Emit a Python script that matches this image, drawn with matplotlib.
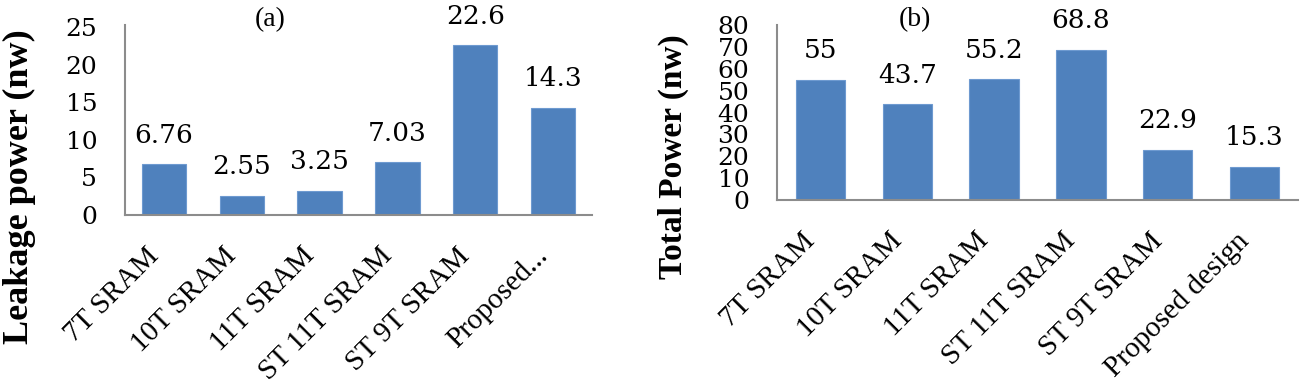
import matplotlib
matplotlib.use("Agg")
import matplotlib.pyplot as plt
import matplotlib.transforms as mtransforms

# data
labels_a = ["7T SRAM", "10T SRAM", "11T SRAM", "ST 11T SRAM", "ST 9T SRAM", "Proposed..."]
leakage = [6.76, 2.55, 3.25, 7.03, 22.6, 14.3]
leakage_txt = ["6.76", "2.55", "3.25", "7.03", "22.6", "14.3"]

labels_b = ["7T SRAM", "10T SRAM", "11T SRAM", "ST 11T SRAM", "ST 9T SRAM", "Proposed design"]
total = [55, 43.7, 55.2, 68.8, 22.9, 15.3]
total_txt = ["55", "43.7", "55.2", "68.8", "22.9", "15.3"]

ticks_a = [0, 5, 10, 15, 20, 25]
ticks_b = [0, 10, 20, 30, 40, 50, 60, 70, 80]

plt.rcParams['font.family'] = ['Liberation Serif', 'DejaVu Serif']
num_font = ['DejaVu Serif']

bar_col = "#4F81BD"
spine_col = "#8C8C8C"

fig = plt.figure(figsize=(13, 3.84), dpi=100)
ax_a = fig.add_axes([125 / 1300, 1 - 215 / 384, 467 / 1300, 190 / 384])
ax_b = fig.add_axes([777 / 1300, 1 - 200 / 384, 521 / 1300, 175 / 384])


def draw(ax, labels, vals, txt, ticks, ymax):
    x = list(range(len(vals)))
    ax.bar(x, vals, width=0.57, color=bar_col, edgecolor="#6E9AD0", linewidth=0.8)
    for xi, v, t in zip(x, vals, txt):
        ax.annotate(t, (xi, v), xytext=(0, 12), textcoords="offset points",
                    ha="center", va="bottom", fontsize=19, family=num_font)
    ax.set_xlim(-0.5, len(vals) - 0.5)
    ax.set_ylim(0, ymax)
    ax.set_yticks(ticks)
    ax.set_yticklabels([str(t) for t in ticks], family=num_font, fontsize=18)
    ax.set_xticks(x)
    ax.set_xticklabels(labels, rotation=45, ha="right", fontsize=21)
    off = mtransforms.ScaledTranslation(7 / 100, 0, fig.dpi_scale_trans)
    for lab in ax.get_xticklabels():
        lab.set_transform(lab.get_transform() + off)
    ax.tick_params(axis="y", length=0, pad=20)
    ax.tick_params(axis="x", length=0, pad=20)
    for s in ["top", "right"]:
        ax.spines[s].set_visible(False)
    for s in ["left", "bottom"]:
        ax.spines[s].set_color(spine_col)
        ax.spines[s].set_linewidth(1.5)


draw(ax_a, labels_a, leakage, leakage_txt, ticks_a, 25.3)
draw(ax_b, labels_b, total, total_txt, ticks_b, 80)

fig.text(19 / 1300, 1 - 187 / 384, "Leakage power (nw)", rotation=90,
         ha="center", va="center", fontsize=26, fontweight="bold")
fig.text(673 / 1300, 1 - 157 / 384, "Total Power (nw)", rotation=90,
         ha="center", va="center", fontsize=24, fontweight="bold")
fig.text(270 / 1300, 1 - 20 / 384, "(a)", ha="center", va="center", fontsize=20)
fig.text(915 / 1300, 1 - 20 / 384, "(b)", ha="center", va="center", fontsize=20)

fig.savefig("out.png", dpi=100)
